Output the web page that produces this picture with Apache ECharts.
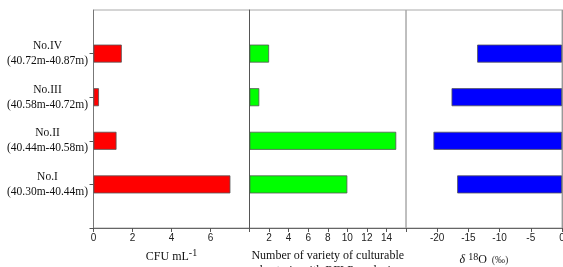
<!DOCTYPE html>
<html>
<head>
<meta charset="utf-8">
<script src="https://cdn.jsdelivr.net/npm/echarts@6/dist/echarts.min.js"></script>
<style>html,body{margin:0;padding:0;background:#fff}#c{width:563px;height:267px}</style>
</head>
<body>
<div id="c"></div>
<script>
const categories = ["", "No.I\n(40.30m-40.44m)", "No.II\n(40.44m-40.58m)", "No.III\n(40.58m-40.72m)", "No.IV\n(40.72m-40.87m)", ""];
const cfu = ['-', 7.02, 1.18, 0.28, 1.45, '-'];
const varieties = ['-', 10, 15, 1, 2, '-'];
const delta18O = ['-', -16.8, -20.6, -17.7, -13.6, '-'];
const cfuTicks = [0, 2, 4, 6];
const varTicks = [2, 4, 6, 8, 10, 12, 14];
const deltaTicks = [-20, -15, -10, -5, 0];

const chart = echarts.init(document.getElementById('c'));
const serif = 'Liberation Serif';
const sans = 'Liberation Sans';
const tickLabel = (allowed) => ({
  fontFamily: sans, fontSize: 10, color: '#222', margin: 5,
  formatter: v => allowed.includes(v) ? String(v) : ''
});
const grids = [
  {left: 93.5, width: 156, top: 10, height: 218},
  {left: 249.5, width: 156.5, top: 10, height: 218},
  {left: 406, width: 156, top: 10, height: 218}
];
const yAx = (i) => ({
  type: 'category', gridIndex: i, data: categories, boundaryGap: false,
  axisLine: {show: true, lineStyle: {color: i === 0 ? '#777' : (i === 1 ? '#555' : '#999'), width: 1}},
  axisTick: {show: i === 0, length: 4, interval: (idx) => idx !== categories.length - 1, lineStyle: {color: '#555'}},
  axisLabel: {show: i === 0, margin: 5, align: 'right',
    formatter: v => v ? v.split('\n').map(s => '{w|' + s + '}').join('\n') : '',
    rich: {w: {fontFamily: serif, fontSize: 11.5, color: '#111', lineHeight: 15, width: 82, align: 'center'}}},
  splitLine: {show: false}
});
const xBase = {
  type: 'value', axisLine: {show: true, onZero: false, lineStyle: {color: '#666'}},
  axisTick: {show: true, length: 4, inside: false, lineStyle: {color: '#555'}},
  splitLine: {show: false}, nameLocation: 'middle'
};
chart.setOption({
  animation: false,
  grid: grids.map(g => Object.assign({show: true, borderColor: '#aaa', borderWidth: 1, outerBoundsMode: 'none', containLabel: false}, g)),
  xAxis: [
    Object.assign({}, xBase, {gridIndex: 0, min: 0, max: 8, interval: 2, axisLabel: tickLabel(cfuTicks),
      name: '{a|CFU mL}{s|-1}', nameGap: 20,
      nameTextStyle: {rich: {a: {fontFamily: serif, fontSize: 12, color: '#111'}, s: {fontFamily: serif, fontSize: 10, color: '#111', verticalAlign: 'top', padding: [0,0,8,0]}}}}),
    Object.assign({}, xBase, {gridIndex: 1, min: 0, max: 16, interval: 2, axisLabel: tickLabel(varTicks),
      name: 'Number of variety of culturable\nbacteria with RFLP analysis', nameGap: 17,
      nameTextStyle: {fontFamily: serif, fontSize: 12, color: '#111', lineHeight: 15, verticalAlign: 'top'}}),
    Object.assign({}, xBase, {gridIndex: 2, min: -25, max: 0, interval: 5, axisLabel: tickLabel(deltaTicks),
      name: '{d|δ }{s|18}{a|O}{p|  (‰)}', nameGap: 24,
      nameTextStyle: {rich: {
        d: {fontFamily: serif, fontSize: 12, color: '#111', fontStyle: 'italic'},
        s: {fontFamily: serif, fontSize: 10, color: '#111', verticalAlign: 'top', padding: [0,0,6,0]},
        a: {fontFamily: serif, fontSize: 12, color: '#111'},
        p: {fontFamily: serif, fontSize: 10, color: '#333'}}}})
  ],
  yAxis: [yAx(0), yAx(1), yAx(2)],
  series: [
    {type: 'bar', xAxisIndex: 0, yAxisIndex: 0, data: cfu, barWidth: 18,
      itemStyle: {color: '#ff0000', borderColor: '#555', borderWidth: 0.8}},
    {type: 'bar', xAxisIndex: 1, yAxisIndex: 1, data: varieties, barWidth: 18,
      itemStyle: {color: '#00ff00', borderColor: '#555', borderWidth: 0.8}},
    {type: 'bar', xAxisIndex: 2, yAxisIndex: 2, data: delta18O, barWidth: 18,
      itemStyle: {color: '#0000ff', borderColor: '#555', borderWidth: 0.8}}
  ]
});
</script>
</body>
</html>
